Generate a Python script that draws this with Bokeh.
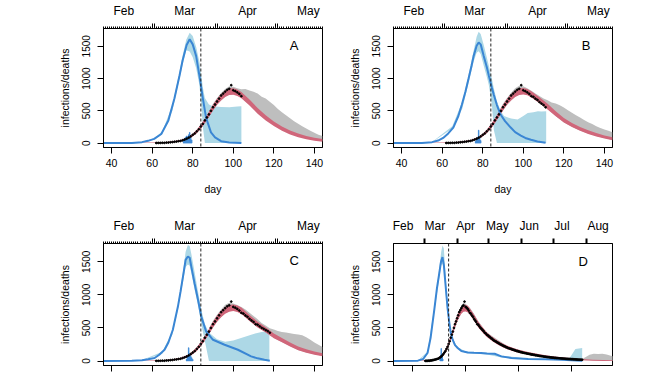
from bokeh.plotting import figure
from bokeh.models import Range1d, LinearAxis, FixedTicker, Span, CustomLabelingPolicy
from bokeh.layouts import column, row
from bokeh.embed import file_html
from bokeh.resources import INLINE
from bokeh.core.properties import value

FONT = "Liberation Sans"
BLUE = "#3A86D4"
LIGHTBLUE = "#ADD8E6"
RED = "#D0667A"
GRAY = "#BEBEBE"

# ---------------- shared data ----------------
lockdown_day = 84
y_ticks = [0, 500, 1000, 1500]
x_ticks_abc = [40, 60, 80, 100, 120, 140]
x_ticks_d = [50, 100, 150, 200]
month_ticks_abc = [60, 61, 91, 92, 121, 122]
month_label_pos_abc = [46, 76, 107, 137]
month_labels_abc = ["Feb", "Mar", "Apr", "May"]
month_ticks_d = [61, 92, 122, 153, 183, 214]
month_label_pos_d = [41, 71, 100, 130, 160, 191, 225]
month_labels_d = ["Feb", "Mar", "Apr", "May", "Jun", "Jul", "Aug"]

# observed daily deaths, day 62 .. 210
death_day = list(range(62, 211))
deaths = [2, 3, 3, 5, 4, 8, 9, 13, 16, 21,
          24, 30, 34, 44, 55, 68, 84, 104, 128, 150,
          182, 214, 258, 298, 352, 398, 445, 500, 556, 598,
          645, 690, 738, 768, 798, 826, 842, 898, 818, 805,
          786, 762, 728, 716, 688, 668, 636, 612, 590, 556,
          548, 524, 502, 486, 468, 452, 428, 418, 398, 388,
          372, 362, 344, 336, 318, 308, 298, 292, 278, 272,
          260, 252, 244, 236, 226, 222, 210, 206, 196, 192,
          186, 182, 174, 170, 164, 160, 152, 150, 144, 140,
          134, 132, 126, 124, 118, 118, 112, 110, 106, 104,
          98, 98, 94, 92, 86, 86, 82, 80, 76, 74,
          72, 70, 66, 66, 62, 60, 58, 57, 54, 53,
          51, 50, 47, 47, 44, 44, 42, 41, 39, 38,
          37, 36, 34, 33, 32, 31, 30, 29, 27, 27,
          26, 25, 24, 23, 22, 21, 21, 20, 19]
data_end = {"A": 104, "B": 111, "C": 118, "D": 210}

red_day = [50, 60, 66, 70, 74, 78, 80, 82, 84, 86, 88, 90, 92, 94, 96, 98, 100, 102, 104,
           108, 112, 116, 120, 124, 128, 132, 136, 140, 144]
gray_day = list(range(88, 145, 2))

# ---------------- panel A ----------------
inf_day_A = [36, 50, 55, 58, 61, 64.5, 68, 71, 73.5, 75, 77, 78.5, 80, 81.7, 83.3, 85, 86.6, 89, 91, 94, 98, 104]
inf_A = [0, 2, 15, 35, 66, 142, 350, 694, 1047, 1280, 1520, 1610, 1530, 1348, 1047, 694, 392, 166, 90, 30, 8, 0]
band_day_A = [50, 55, 61, 65, 70, 73.5, 75.2, 76.8, 78.5, 80, 81.7, 83.3, 84.2, 85, 86, 88, 90, 94, 98, 102, 104]
band_hi_A = [4, 20, 75, 180, 590, 1110, 1380, 1600, 1712, 1660, 1490, 1260, 1060, 860, 700, 600, 572, 560, 556, 566, 570]
band_lo_A = [0, 12, 55, 140, 500, 1000, 1240, 1440, 1420, 1330, 1160, 900, 600, 250, 0, 0, 0, 0, 0, 0, 0]
red_lo_A = [0, 0, 0, 8, 26, 62, 103, 152, 223, 309, 405, 506, 594, 662, 715, 745, 750, 730, 697, 584,
            456, 350, 264, 193, 135, 92, 59, 36, 20]
red_hi_A = [4, 8, 14, 28, 50, 98, 147, 208, 287, 381, 485, 594, 686, 758, 815, 845, 850, 830, 793, 676,
            544, 430, 336, 257, 195, 148, 111, 84, 64]
gray_hi_A = [495, 610, 700, 775, 840, 880, 875, 850, 835, 840, 815, 795, 770, 720, 690, 640, 590, 530, 480, 430,
             385, 340, 300, 260, 225, 190, 160, 130, 110]
gray_lo_A = [405, 505, 595, 665, 720, 752, 758, 740, 707, 650, 597, 535, 472, 420, 367, 322, 280, 243, 208, 178,
             150, 128, 107, 90, 74, 62, 50, 41, 33]
spike_day_A = [75.5, 76, 76.5, 77, 77.5, 78, 78.5, 79, 79.5]
spike_A = [40, 70, 90, 110, 100, 130, 165, 90, 50]

# ---------------- panel B ----------------
inf_day_B = [36, 50, 55, 58, 60.5, 63, 65.5, 68, 69.7, 71.5, 73, 74.5, 75.5, 77, 78, 79, 80.5, 82, 83, 84.5,
             85.5, 87, 88.8, 91, 93.8, 96, 98.8, 101, 103.8, 107, 111]
inf_B = [0, 3, 15, 40, 81, 150, 241, 420, 594, 800, 996, 1200, 1348, 1510, 1560, 1530, 1348, 1180, 1047, 860,
         745, 590, 443, 340, 241, 170, 116, 80, 51, 25, 5]
band_day_B = [50, 55, 65, 70, 73, 75.5, 77, 78, 79, 80.5, 82, 83, 84.5, 85.5, 87, 88.8, 90.5, 94, 97.2, 100,
              102.2, 105, 107.2, 109, 111.3]
band_hi_B = [4, 18, 260, 650, 1060, 1430, 1650, 1725, 1690, 1520, 1330, 1200, 1000, 845, 650, 500, 420, 380, 367, 420,
             468, 480, 493, 490, 493]
band_lo_B = [0, 12, 225, 540, 930, 1260, 1400, 1424, 1380, 1200, 1030, 900, 600, 200, 0, 0, 0, 0, 0, 0,
             0, 0, 0, 0, 0]
red_lo_B = [0, 0, 0, 8, 26, 62, 103, 152, 223, 309, 405, 506, 594, 662, 715, 745, 755, 740, 707, 619,
            521, 415, 319, 248, 190, 142, 104, 71, 46]
red_hi_B = [4, 8, 14, 28, 50, 98, 147, 208, 287, 381, 485, 594, 686, 758, 815, 845, 855, 840, 803, 711,
            609, 495, 391, 312, 250, 198, 156, 119, 90]
gray_hi_B = [495, 610, 700, 780, 850, 890, 880, 850, 810, 770, 730, 690, 665, 630, 615, 585, 550, 510, 470, 430,
             395, 360, 325, 295, 260, 235, 210, 190, 170]
gray_lo_B = [405, 505, 595, 665, 720, 752, 763, 750, 715, 671, 627, 578, 530, 476, 422, 373, 325, 289, 253, 224,
             196, 172, 148, 129, 110, 94, 78, 65, 53]
spike_day_B = [76.5, 77, 77.5, 78, 78.5, 79]
spike_B = [30, 60, 90, 200, 80, 40]

# ---------------- panel C ----------------
inf_day_C = [36, 50, 55, 58, 61.2, 63.5, 66.1, 68, 70.2, 72.7, 74, 75.2, 76.5, 77.6, 78.5, 79.3, 80.9, 82.6, 84.2, 86.6,
             90, 95.7, 102.3, 108.8, 112, 115.4, 118]
inf_C = [0, 3, 10, 25, 45, 95, 170, 280, 472, 823, 1050, 1276, 1528, 1580, 1560, 1427, 1176, 925, 673, 447,
         321, 246, 170, 70, 40, 20, 5]
band_day_C = [50, 55, 65, 70, 72.7, 75.2, 76.5, 77.6, 78.5, 79.3, 80.9, 82.6, 84.2, 86, 88, 92, 96, 100, 105, 110,
              114, 117.8]
band_hi_C = [4, 14, 140, 450, 850, 1350, 1650, 1754, 1740, 1620, 1350, 1050, 780, 560, 430, 330, 290, 310, 360, 410,
             440, 452]
band_lo_C = [0, 8, 110, 400, 780, 1200, 1420, 1460, 1440, 1330, 1080, 850, 560, 300, 0, 0, 0, 0, 0, 0,
             0, 0]
red_lo_C = [0, 0, 0, 8, 26, 62, 103, 152, 223, 309, 405, 506, 594, 662, 715, 745, 755, 740, 712, 604,
            506, 430, 344, 283, 220, 162, 124, 96, 73]
red_hi_C = [4, 8, 14, 28, 50, 98, 147, 208, 287, 381, 485, 594, 686, 758, 815, 845, 855, 840, 808, 696,
            594, 510, 416, 347, 280, 218, 176, 144, 117]
gray_hi_C = [495, 610, 700, 780, 850, 880, 870, 845, 815, 780, 730, 680, 630, 575, 535, 495, 475, 455, 440, 432,
             420, 410, 400, 388, 360, 320, 280, 245, 210]
gray_lo_C = [405, 505, 595, 665, 720, 752, 763, 750, 720, 666, 612, 563, 515, 476, 437, 393, 350, 319, 288, 257,
             226, 197, 168, 149, 130, 116, 102, 90, 78]
spike_day_C = [77, 77.5, 78, 78.5, 79, 79.5, 80]
spike_C = [30, 70, 200, 110, 80, 50, 25]

# ---------------- panel D ----------------
inf_day_D = [32, 55, 60, 64.1, 67, 70.5, 73, 75.2, 76.8, 78.2, 79.5, 81.5, 83, 84.7, 86, 87.8, 90, 92.6, 96, 102,
             108, 114.6, 120, 127.4, 133.7, 143.2, 159, 175, 190.6, 200, 210]
inf_D = [0, 5, 30, 121, 350, 775, 1100, 1329, 1500, 1570, 1450, 1077, 800, 574, 430, 322, 240, 196, 150, 130,
         125, 120, 115, 110, 70, 45, 30, 25, 20, 12, 5]
band_day_D = [55, 64.1, 70.5, 75.2, 77, 78.2, 79.5, 81.5, 83, 84.7, 86, 88, 92, 100, 120, 135, 160, 180, 195, 197.5,
              200, 203.6, 210]
band_hi_D = [8, 140, 820, 1400, 1650, 1745, 1700, 1200, 860, 600, 450, 340, 215, 145, 125, 80, 35, 28, 25, 30,
             90, 180, 196]
band_lo_D = [3, 105, 740, 1260, 1450, 1470, 1400, 960, 740, 540, 410, 300, 180, 120, 100, 50, 25, 18, 12, 8,
             0, 0, 0]
red_day_D = [50, 60, 66, 70, 74, 78, 80, 82, 84, 86, 88, 90, 92, 94, 96, 98, 100, 102, 104, 108,
             112, 116, 120, 125, 130, 135, 140, 145, 150, 160, 170, 180, 190, 200, 210, 220, 230, 240]
red_lo_D = [0, 0, 0, 8, 26, 62, 103, 152, 223, 309, 405, 506, 594, 662, 715, 745, 750, 735, 702, 609,
            506, 430, 364, 303, 250, 207, 174, 148, 126, 92, 67, 44, 29, 18, 10, 4, 1, 0]
red_hi_D = [4, 8, 14, 28, 50, 98, 147, 208, 287, 381, 485, 594, 686, 758, 815, 845, 850, 835, 798, 701,
            594, 510, 436, 367, 310, 263, 226, 196, 170, 132, 103, 76, 57, 42, 30, 20, 15, 11]
gray_day_D = [88, 92, 96, 98, 100, 104, 108, 112, 120, 140, 160, 180, 200, 206, 210, 213, 217, 221, 225, 229,
              233, 237, 240]
gray_hi_D = [490, 700, 830, 880, 865, 805, 710, 600, 430, 220, 125, 70, 36, 28, 30, 55, 95, 110, 105, 110,
             100, 80, 70]
gray_lo_D = [405, 595, 720, 752, 758, 712, 622, 522, 378, 186, 103, 54, 26, 20, 16, 13, 10, 8, 7, 6,
             5, 4, 3]
spike_day_D = [76, 76.5, 77, 77.5, 78, 78.5]
spike_D = [40, 90, 190, 100, 60, 30]


def no_labels():
    return CustomLabelingPolicy(code="return [];")


def make_panel(letter, width, height, borders, xr, inf_day, inf, band_day, band_lo, band_hi,
               rday, rlo, rhi, gday, glo, ghi, sday, sval, end_day, letter_xy,
               x_ticks, show_bottom_labels, month_ticks, daily_ticks, lab_pos, labs, month_tick_width):
    left, right, top, bottom = borders
    p = figure(width=width, height=height, x_range=Range1d(*xr), y_range=Range1d(-68, 1776),
               output_backend="svg", toolbar_location=None,
               min_border_left=left, min_border_right=right,
               min_border_top=top, min_border_bottom=bottom)
    p.xgrid.visible = False
    p.ygrid.visible = False
    p.outline_line_color = "black"
    p.outline_line_width = 1
    p.outline_line_alpha = 1
    p.background_fill_color = "white"
    p.border_fill_color = "white"

    # data layers
    p.varea(x=band_day, y1=band_lo, y2=band_hi, fill_color=LIGHTBLUE)
    p.varea(x=gday, y1=glo, y2=ghi, fill_color=GRAY)
    p.varea(x=rday, y1=rlo, y2=rhi, fill_color=RED)
    p.vbar(x=sday, top=sval, bottom=0, width=0.28, fill_color=BLUE, line_color=BLUE, line_width=0.8)
    p.line(inf_day, inf, line_color=BLUE, line_width=2)
    n = death_day.index(end_day) + 1
    p.scatter(death_day[:n], deaths[:n], size=1.8, color="black", marker="circle")
    p.add_layout(Span(location=lockdown_day, dimension="height", line_dash="3 2",
                      line_color="#222222", line_width=1))
    p.text(x=[letter_xy[0]], y=[letter_xy[1]], text=[letter], text_font=value(FONT),
           text_font_size="13px", text_align="center", text_baseline="middle", text_color="black")

    # bottom axis
    xa = p.xaxis[0]
    xa.ticker = FixedTicker(ticks=x_ticks)
    xa.major_tick_out = 6
    xa.major_tick_in = 0
    xa.minor_tick_line_color = None
    xa.axis_line_color = "black"
    xa.major_label_text_font = FONT
    xa.major_label_text_color = "black"
    if show_bottom_labels:
        xa.major_label_text_font_size = "10.5px"
        xa.major_label_standoff = 5
        xa.axis_label = "day"
        xa.axis_label_text_font = FONT
        xa.axis_label_text_color = "black"
        xa.axis_label_text_font_size = "10.5px"
        xa.axis_label_text_font_style = "normal"
        xa.axis_label_standoff = 13
    else:
        xa.major_label_text_font_size = "1px"
        xa.major_label_standoff = 0
        xa.major_label_policy = no_labels()

    # left axis
    ya = p.yaxis[0]
    ya.ticker = FixedTicker(ticks=y_ticks)
    ya.major_tick_out = 6
    ya.major_tick_in = 0
    ya.minor_tick_line_color = None
    ya.major_label_orientation = "vertical"
    ya.major_label_text_font = FONT
    ya.major_label_text_color = "black"
    ya.major_label_text_font_size = "10px"
    ya.major_label_standoff = 7
    ya.axis_label = "infections/deaths"
    ya.axis_label_text_font = FONT
    ya.axis_label_text_color = "black"
    ya.axis_label_text_font_size = "10.5px"
    ya.axis_label_text_font_style = "normal"
    ya.axis_label_standoff = 9

    # top axis: month boundary ticks (+ daily ticks), no labels
    ax1 = LinearAxis(ticker=FixedTicker(ticks=month_ticks, minor_ticks=daily_ticks),
                     major_tick_out=5, major_tick_in=0, major_tick_line_width=month_tick_width,
                     minor_tick_out=2, minor_tick_in=0, minor_tick_line_width=1,
                     major_label_text_font_size="1px", major_label_standoff=0,
                     major_label_policy=no_labels(),
                     axis_line_color="black")
    p.add_layout(ax1, "above")
    # top axis: month names
    ax2 = LinearAxis(ticker=FixedTicker(ticks=lab_pos),
                     major_label_overrides={k: v for k, v in zip(lab_pos, labs)},
                     major_tick_line_color=None, minor_tick_line_color=None, axis_line_color=None,
                     major_tick_out=0, major_tick_in=0, major_label_standoff=2,
                     major_label_text_font=FONT, major_label_text_color="black",
                     major_label_text_font_size="12px")
    p.add_layout(ax2, "above")
    return p


daily_abc = list(range(36, 145))
pA = make_panel("A", 334, 200, (103, 12, 25, 53), (36, 144), inf_day_A, inf_A, band_day_A, band_lo_A, band_hi_A,
                red_day, red_lo_A, red_hi_A, gray_day, gray_lo_A, gray_hi_A, spike_day_A, spike_A,
                data_end["A"], (130, 1510), x_ticks_abc, True, month_ticks_abc, daily_abc,
                month_label_pos_abc, month_labels_abc, 1)
pB = make_panel("B", 334, 200, (59, 56, 25, 53), (36, 144), inf_day_B, inf_B, band_day_B, band_lo_B, band_hi_B,
                red_day, red_lo_B, red_hi_B, gray_day, gray_lo_B, gray_hi_B, spike_day_B, spike_B,
                data_end["B"], (131, 1510), x_ticks_abc, True, month_ticks_abc, daily_abc,
                month_label_pos_abc, month_labels_abc, 1)
pC = make_panel("C", 334, 176, (103, 12, 43, 11), (36, 144), inf_day_C, inf_C, band_day_C, band_lo_C, band_hi_C,
                red_day, red_lo_C, red_hi_C, gray_day, gray_lo_C, gray_hi_C, spike_day_C, spike_C,
                data_end["C"], (130, 1515), x_ticks_abc, False, month_ticks_abc, daily_abc,
                month_label_pos_abc, month_labels_abc, 1)
pD = make_panel("D", 334, 176, (59, 56, 43, 11), (32, 238.6), inf_day_D, inf_D, band_day_D, band_lo_D, band_hi_D,
                red_day_D, red_lo_D, red_hi_D, gray_day_D, gray_lo_D, gray_hi_D, spike_day_D, spike_D,
                data_end["D"], (211, 1510), x_ticks_d, False, month_ticks_d, [],
                month_label_pos_d, month_labels_d, 2)

layout = column(row(pA, pB), row(pC, pD))
open("out.html", "w").write(file_html(layout, INLINE))
